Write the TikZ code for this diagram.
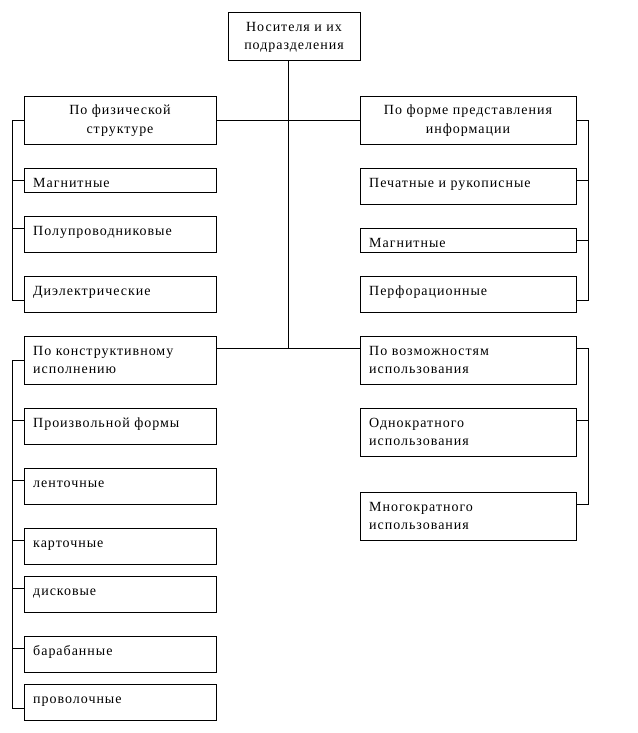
\documentclass[tikz,border=0pt]{standalone}
\usepackage{fontspec}
\setmainfont[LetterSpace=7]{Liberation Serif}
\tikzset{
  box/.style={draw, line width=0.9pt, anchor=north west, inner sep=0pt},
  txt/.style={anchor=base west, inner sep=0pt, font=\fontsize{14}{18}\selectfont},
  ctxt/.style={anchor=base, inner sep=0pt, font=\fontsize{14}{18}\selectfont},
  wire/.style={line width=0.9pt}
}
% \bx{name}{x}{y}{w}{h}
\newcommand{\bx}[5]{\node[box, minimum width=#4pt, minimum height=#5pt] (#1) at (#2,#3) {};}
\begin{document}
\begin{tikzpicture}[x=1pt, y=-1pt]
\useasboundingbox (0,0) rectangle (637,733);
% top
\bx{top}{228}{12}{132}{48}
\node[ctxt] (toptxt) at (294,31.5) {Носителя и их};
\node[ctxt] (toptxt2) at (294,49.5) {подразделения};
% level 1
\bx{phys}{24}{96}{192}{48}
\node[ctxt] (physt1) at (120,115) {По физической};
\node[ctxt] (physt2) at (120,133) {структуре};
\bx{form}{360}{96}{216}{48}
\node[ctxt] (formt1) at (468,115) {По форме представления};
\node[ctxt] (formt2) at (468,133) {информации};
\bx{cons}{24}{336}{192}{48}
\node[txt] (const1) at (33,355) {По конструктивному};
\node[txt] (const2) at (33,373) {исполнению};
\bx{use}{360}{336}{216}{48}
\node[txt] (uset1) at (369,355) {По возможностям};
\node[txt] (uset2) at (369,373) {использования};
% physical children
\bx{mag1}{24}{168}{192}{24}
\node[txt] (mag1t) at (33,187.5) {Магнитные};
\bx{semi}{24}{216}{192}{36}
\node[txt] (semit) at (33,235.5) {Полупроводниковые};
\bx{diel}{24}{276}{192}{36}
\node[txt] (dielt) at (33,295.5) {Диэлектрические};
% form children
\bx{print}{360}{168}{216}{36}
\node[txt] (printt) at (369,187.5) {Печатные и рукописные};
\bx{mag2}{360}{228}{216}{24}
\node[txt] (mag2t) at (369,247.5) {Магнитные};
\bx{perf}{360}{276}{216}{36}
\node[txt] (perft) at (369,295.5) {Перфорационные};
% construction children
\bx{arb}{24}{408}{192}{36}
\node[txt] (arbt) at (33,427.5) {Произвольной формы};
\bx{tape}{24}{468}{192}{36}
\node[txt] (tapet) at (33,487.5) {ленточные};
\bx{card}{24}{528}{192}{36}
\node[txt] (cardt) at (33,547.5) {карточные};
\bx{disk}{24}{576}{192}{36}
\node[txt] (diskt) at (33,595.5) {дисковые};
\bx{drum}{24}{636}{192}{36}
\node[txt] (drumt) at (33,655.5) {барабанные};
\bx{wire}{24}{684}{192}{36}
\node[txt] (wiret) at (33,703.5) {проволочные};
% use children
\bx{once}{360}{408}{216}{48}
\node[txt] (oncet1) at (369,427.5) {Однократного};
\node[txt] (oncet2) at (369,445.5) {использования};
\bx{multi}{360}{492}{216}{48}
\node[txt] (multit1) at (369,511.5) {Многократного};
\node[txt] (multit2) at (369,529.5) {использования};
% connectors
\coordinate (trunkbot) at (288,348);
\draw[wire] (top.south -| trunkbot) -- (trunkbot);
\draw[wire] (phys.east) -- (form.west);
\draw[wire] (cons.east |- trunkbot) -- (use.west |- trunkbot);
% left upper bracket
\coordinate (lb1) at (12,300);
\draw[wire] (phys.west) -| (lb1) -- (diel.west |- lb1);
\draw[wire] (mag1.west) -- (mag1.west -| lb1);
\draw[wire] (semi.west |- 0,228) -- (12,228);
% right upper bracket
\coordinate (rb1) at (588,300);
\draw[wire] (form.east) -| (rb1) -- (perf.east |- rb1);
\draw[wire] (print.east |- 0,180) -- (588,180);
\draw[wire] (mag2.east |- 0,240) -- (588,240);
% left lower bracket
\coordinate (lb2) at (12,708);
\draw[wire] (cons.west) -| (lb2) -- (wire.west |- lb2);
\draw[wire] (arb.west |- 0,420) -- (12,420);
\draw[wire] (tape.west |- 0,480) -- (12,480);
\draw[wire] (card.west |- 0,540) -- (12,540);
\draw[wire] (disk.west |- 0,588) -- (12,588);
\draw[wire] (drum.west |- 0,648) -- (12,648);
% right lower bracket
\coordinate (rb2) at (588,504);
\draw[wire] (use.east |- trunkbot) -| (rb2) -- (multi.east |- rb2);
\draw[wire] (once.east |- 0,420) -- (588,420);
\end{tikzpicture}
\end{document}
